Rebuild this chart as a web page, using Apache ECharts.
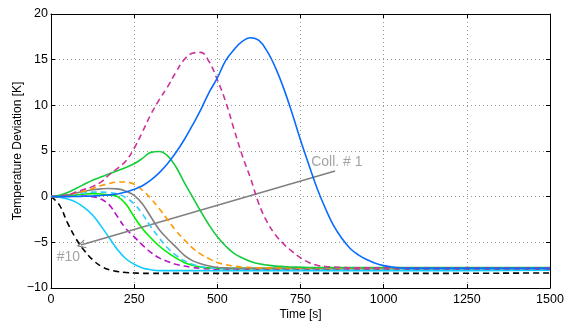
<!DOCTYPE html>
<html>
<head>
<meta charset="utf-8">
<script src="https://cdn.jsdelivr.net/npm/echarts@6/dist/echarts.min.js"></script>
<style>
html,body{margin:0;padding:0;background:#fff;}
#chart{width:565px;height:322px;}
</style>
</head>
<body>
<div id="chart"></div>
<script>
// Time stamps [s]
var timeS = [0,25,50,75,100, 125,150,175,200,225, 250,275,300,325,350, 375,400,425,450,475,
             500,525,550,575,600, 625,650,675,700,725, 750,775,800,825,850, 875,900,925,950,975,
             1000,1025,1050,1075,1100, 1500];

// Temperature deviation [K] per collector
var coll1  = [0,0,0,0.02,0.05, 0.08,0.12,0.2,0.3,0.5, 0.8,1.2,1.8,2.6,3.6, 4.8,6.2,7.8,9.5,11.4,
              13.0,14.9,16.1,17.0,17.4, 17.1,15.9,14.1,11.8,9.1, 6.2,3.5,0.9,-1.3,-3.2, -4.6,-5.7,-6.4,-6.9,-7.3,
              -7.55,-7.7,-7.8,-7.85,-7.85, -7.85];
var coll2  = [0,0.05,0.2,0.5,0.8, 1.1,1.6,2.4,3.1,3.9, 5.3,7.1,9.0,10.6,12.0, 13.6,15.0,15.7,15.8,14.8,
              12.8,10.4,7.4,4.5,2.0, -0.8,-2.8,-4.2,-5.2,-6.0, -6.7,-7.2,-7.5,-7.65,-7.7, -7.75,-7.8,-7.8,-7.8,-7.8,
              -7.8,-7.8,-7.8,-7.8,-7.8, -7.8];
var coll3  = [0,0.15,0.45,0.9,1.35, 1.8,2.15,2.5,2.85,3.2, 3.6,4.2,4.85,4.95,4.5, 3.3,1.6,0.0,-1.6,-3.1,
              -4.4,-5.4,-6.2,-6.7,-7.1, -7.35,-7.5,-7.6,-7.65,-7.7, -7.72,-7.75,-7.75,-7.75,-7.75, -7.75,-7.75,-7.75,-7.75,-7.75,
              -7.75,-7.75,-7.75,-7.75,-7.75, -7.75];
var coll4  = [0,0.05,0.2,0.4,0.6, 0.9,1.2,1.45,1.6,1.6, 1.35,0.7,-0.2,-1.3,-2.5, -3.7,-4.7,-5.6,-6.3,-6.8,
              -7.2,-7.45,-7.6,-7.7,-7.75, -7.8,-7.8,-7.8,-7.8,-7.8, -7.8,-7.8,-7.8,-7.8,-7.8, -7.8,-7.8,-7.8,-7.8,-7.8,
              -7.8,-7.8,-7.8,-7.8,-7.8, -7.8];
var coll5  = [0,0.05,0.2,0.4,0.6, 0.75,0.85,0.9,0.85,0.6, 0.15,-0.8,-2.2,-3.6,-4.6, -5.5,-6.4,-7.0,-7.35,-7.6,
              -7.75,-7.8,-7.85,-7.85,-7.85, -7.85,-7.85,-7.85,-7.85,-7.85, -7.85,-7.85,-7.85,-7.85,-7.85, -7.85,-7.85,-7.85,-7.85,-7.85,
              -7.85,-7.85,-7.85,-7.85,-7.85, -7.85];
var coll6  = [0,0.05,0.15,0.3,0.4, 0.5,0.5,0.45,0.3,-0.1, -0.8,-1.9,-3.3,-4.5,-5.6, -6.4,-7.0,-7.4,-7.65,-7.8,
              -7.85,-7.9,-7.9,-7.9,-7.9, -7.9,-7.9,-7.9,-7.9,-7.9, -7.9,-7.9,-7.9,-7.9,-7.9, -7.9,-7.9,-7.9,-7.9,-7.9,
              -7.9,-7.9,-7.9,-7.9,-7.9, -7.9];
var coll7  = [0,0.03,0.1,0.2,0.3, 0.33,0.3,0.2,0.0,-0.8, -2.2,-3.5,-4.5,-5.4,-6.1, -6.7,-7.2,-7.5,-7.7,-7.8,
              -7.85,-7.85,-7.85,-7.85,-7.85, -7.85,-7.85,-7.85,-7.85,-7.85, -7.85,-7.85,-7.85,-7.85,-7.85, -7.85,-7.85,-7.85,-7.85,-7.85,
              -7.85,-7.85,-7.85,-7.85,-7.85, -7.85];
var coll8  = [0,0.02,0.05,0.08,0.08, 0.0,-0.25,-0.9,-2.2,-3.5, -4.4,-5.3,-6.1,-6.7,-7.1, -7.4,-7.6,-7.75,-7.85,-7.9,
              -7.95,-7.95,-7.95,-7.95,-7.95, -7.95,-7.95,-7.95,-7.95,-7.95, -7.95,-7.95,-7.95,-7.95,-7.95, -7.95,-7.95,-7.95,-7.95,-7.95,
              -7.95,-7.95,-7.95,-7.95,-7.95, -7.95];
var coll9  = [0,-0.05,-0.25,-0.6,-1.2, -2.0,-3.2,-4.5,-5.8,-6.8, -7.4,-7.8,-8.0,-8.1,-8.1, -8.1,-8.1,-8.1,-8.1,-8.1,
              -8.1,-8.1,-8.1,-8.1,-8.1, -8.1,-8.1,-8.1,-8.1,-8.1, -8.1,-8.1,-8.1,-8.1,-8.1, -8.1,-8.1,-8.1,-8.1,-8.1,
              -8.1,-8.1,-8.1,-8.1,-8.1, -8.05];
var coll10 = [0,-0.9,-2.9,-4.6,-5.9, -6.9,-7.6,-8.0,-8.2,-8.3, -8.35,-8.4,-8.4,-8.4,-8.4, -8.4,-8.4,-8.4,-8.4,-8.4,
              -8.4,-8.4,-8.4,-8.4,-8.4, -8.4,-8.4,-8.4,-8.4,-8.4, -8.4,-8.4,-8.4,-8.4,-8.4, -8.4,-8.4,-8.4,-8.4,-8.4,
              -8.4,-8.4,-8.4,-8.4,-8.4, -8.35];

// Axis ticks
var xTicks = {min:0, max:1500, interval:250};
var yTicks = {min:-10, max:20, interval:5};

// Annotation arrow (Coll. #1 -> #10)
var arrowFrom = [854, 2.8];
var arrowTo = [90, -5.3];
var labelColl1 = [782, 3.8];
var label10 = [17, -6.6];

var seriesDefs = [
  {data: coll1,  color: '#0a6cff', dashed: false},
  {data: coll2,  color: '#cc3399', dashed: true},
  {data: coll3,  color: '#14cc3c', dashed: false},
  {data: coll4,  color: '#ff9900', dashed: true},
  {data: coll5,  color: '#808080', dashed: false},
  {data: coll6,  color: '#33ccff', dashed: true},
  {data: coll7,  color: '#00ee00', dashed: false},
  {data: coll8,  color: '#bb11cc', dashed: true},
  {data: coll9,  color: '#11ccff', dashed: false},
  {data: coll10, color: '#000000', dashed: true}
];

function pairs(vals){
  return vals.map(function(v,i){ return [timeS[i], v]; });
}

var FONT = 'Liberation Sans, Arial, sans-serif';
function fmtY(v){ return String(v).replace('-', '\u2212'); }
function fmtX(v){ return String(v); }

var series = seriesDefs.map(function(d, i){
  return {
    type: 'line',
    data: pairs(d.data),
    smooth: 0.4,
    showSymbol: false,
    symbol: 'none',
    silent: true,
    z: 10 - i,
    lineStyle: {color: d.color, width: 1.6, type: d.dashed ? [6, 4] : 'solid'}
  };
});

series.push({
  type: 'scatter',
  data: [],
  silent: true,
  markLine: {
    silent: true,
    symbol: ['none', 'path://M0,10 L5,0 L10,10 L8.6,10 L5,2.8 L1.4,10 Z'],
    symbolSize: [9, 9],
    label: {show: false},
    lineStyle: {color: '#808080', width: 1.6, type: 'solid'},
    data: [[{coord: arrowFrom}, {coord: arrowTo}]]
  }
});

series.push({
  type: 'scatter',
  symbolSize: 0,
  silent: true,
  data: [
    {value: labelColl1, label: {formatter: 'Coll. # 1'}},
    {value: label10, label: {formatter: '#10'}}
  ],
  label: {
    show: true, position: 'right', distance: 0,
    color: '#8c8c8c', fontSize: 14, fontFamily: FONT
  }
});

var chart = echarts.init(document.getElementById('chart'), null, {renderer: 'canvas'});
chart.setOption({
  animation: false,
  backgroundColor: '#fff',
  grid: {left: 51, right: 15, top: 14, bottom: 34, containLabel: false, outerBoundsMode: 'none'},
  xAxis: [{
    type: 'value', min: xTicks.min, max: xTicks.max, interval: xTicks.interval,
    name: 'Time [s]', nameLocation: 'middle', nameGap: 21, nameMoveOverlap: false,
    nameTextStyle: {color: '#000', fontSize: 12, fontFamily: FONT},
    axisLine: {show: true, onZero: false, lineStyle: {color: '#000', width: 1}},
    axisTick: {show: true, inside: true, length: 4, lineStyle: {color: '#000'}},
    axisLabel: {color: '#000', fontSize: 12.5, fontFamily: FONT, margin: 5, formatter: fmtX},
    splitLine: {show: true, lineStyle: {color: '#999', type: [1, 3], width: 1}}
  }, {
    type: 'value', position: 'top', min: xTicks.min, max: xTicks.max, interval: xTicks.interval,
    axisLine: {show: true, onZero: false, lineStyle: {color: '#000', width: 1}},
    axisTick: {show: true, inside: true, length: 4, lineStyle: {color: '#000'}},
    axisLabel: {show: false}, splitLine: {show: false}
  }],
  yAxis: [{
    type: 'value', min: yTicks.min, max: yTicks.max, interval: yTicks.interval,
    name: 'Temperature Deviation [K]', nameLocation: 'middle', nameGap: 27, nameMoveOverlap: false,
    nameTextStyle: {color: '#000', fontSize: 12, fontFamily: FONT},
    axisLine: {show: true, onZero: false, lineStyle: {color: '#000', width: 1}},
    axisTick: {show: true, inside: true, length: 4, lineStyle: {color: '#000'}},
    axisLabel: {color: '#000', fontSize: 12.5, fontFamily: FONT, margin: 3, formatter: fmtY},
    splitLine: {show: true, lineStyle: {color: '#999', type: [1, 3], width: 1}}
  }, {
    type: 'value', position: 'right', min: yTicks.min, max: yTicks.max, interval: yTicks.interval,
    axisLine: {show: true, onZero: false, lineStyle: {color: '#000', width: 1}},
    axisTick: {show: true, inside: true, length: 4, lineStyle: {color: '#000'}},
    axisLabel: {show: false}, splitLine: {show: false}
  }],
  series: series
});
</script>
</body>
</html>
